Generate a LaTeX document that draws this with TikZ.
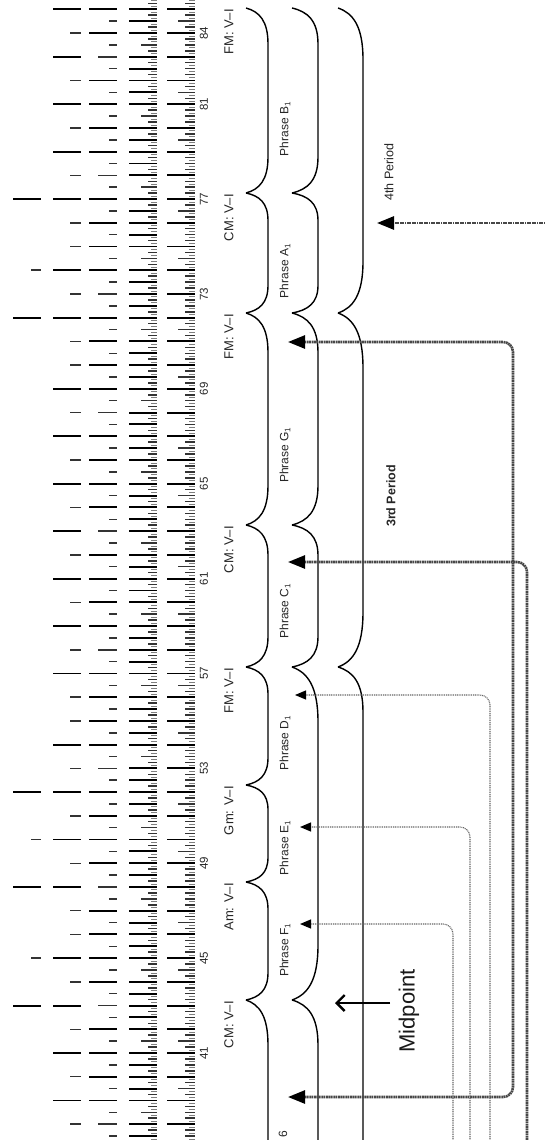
\documentclass[tikz,border=0pt]{standalone}
\usepackage{fontspec}
\setmainfont{Liberation Sans}
\usetikzlibrary{arrows.meta}
\makeatletter
\newcommand\ifinlist[2]{\edef\tmp@a{\noexpand\in@{,#1,}{,#2,}}\tmp@a\ifin@\expandafter\@firstoftwo\else\expandafter\@secondoftwo\fi}
\makeatother
% bracket between two cusps: xc, xb, y1, y2
\newcommand\phrbrace[4]{%
  \pgfmathsetmacro\bdd{min(55,12+0.13*(#4-#3))}%
  \pgfmathsetmacro\bxm{#1+0.6*(#2-#1)}%
  \draw[bracestyle] (#1,#3) .. controls (\bxm,{#3+0.1*\bdd}) and (#2,{#3+0.35*\bdd}) .. (#2,{#3+\bdd}) -- (#2,{#4-\bdd}) .. controls (#2,{#4-0.35*\bdd}) and (\bxm,{#4-0.1*\bdd}) .. (#1,#4);}
\newcommand\phrbraceopen[3]{%
  \pgfmathsetmacro\bxm{#1+0.6*(#2-#1)}%
  \draw[bracestyle] (#1,#3) .. controls (\bxm,{#3+4.5}) and (#2,{#3+15.7}) .. (#2,{#3+45}) -- (#2,1300);}
\begin{document}
\begin{tikzpicture}[x=1pt,y=-1pt,
  tkL/.style={line width=1.9pt,black},
  tkM/.style={line width=1.5pt,black!80},
  tkS/.style={line width=0.9pt,black!50},
  bracestyle/.style={line width=1.4pt,black},
  cad/.style={rotate=90,anchor=east,inner sep=0pt,font=\fontsize{13}{15}\selectfont,text=black!85},
  phr/.style={rotate=90,inner sep=0pt,font=\fontsize{12}{14}\selectfont,text=black!85},
  num/.style={rotate=90,inner sep=0pt,font=\fontsize{11.5}{13}\selectfont,text=black!85},
  per/.style={rotate=90,inner sep=0pt,font=\fontsize{12.5}{14}\selectfont,text=black!85},
  thickdot/.style={line width=2.6pt,black!72,dash pattern=on 1.8pt off 0.6pt,rounded corners=10pt},
  thindot/.style={line width=1.1pt,black!60,dash pattern=on 1pt off 0.8pt,rounded corners=10pt},
  bigtip/.style={-{Triangle[length=17pt,width=13pt,color=black]}},
  smalltip/.style={-{Triangle[length=11pt,width=9pt,color=black]}}
]
\useasboundingbox (0,0) rectangle (545,1140);
\fill[white] (0,0) rectangle (545,1140);

% ---------- metrical grid ----------
\foreach \m in {37,...,86}{%
  \pgfmathsetmacro\Y{1053-23.72*(\m-41)}%
  \pgfmathtruncatemacro\va{mod(\m*7+3,5)}%
  \pgfmathtruncatemacro\vb{mod(\m*5+2,3)}%
  \foreach \k in {0,...,7}{%
    \pgfmathsetmacro\yy{\Y-\k*2.965}%
    \ifnum\k=0
      \draw[tkL] (167,\yy) -- (195,\yy);
      \draw[tkL] (129,\yy) -- (157,\yy);
    \else\ifodd\k
      \draw[tkS] (189,\yy) -- (195,\yy);
      \draw[tkS] (151,\yy) -- (157,\yy);
    \else\ifnum\k=4
      \ifnum\va<2 \draw[tkM] (178,\yy) -- (195,\yy); \else \draw[tkM] (185,\yy) -- (195,\yy); \fi
      \ifnum\vb=0 \draw[tkM] (141,\yy) -- (157,\yy); \else \draw[tkL] (129,\yy) -- (157,\yy); \fi
    \else
      \draw[tkM] (185,\yy) -- (195,\yy);
      \draw[tkM] (148,\yy) -- (157,\yy);
    \fi\fi\fi
  }%
  % band 3
  \ifnum\va=4 \draw[tkM] (98,\Y) -- (117,\Y); \else \draw[tkL] (89,\Y) -- (117,\Y); \fi
  \draw[tkM] (109,{\Y-11.86}) -- (117,{\Y-11.86});
  % band 2
  \ifinlist{\m}{37,39,41,43,45,48,50,52,54,57,59,61,63,65,67,69,72,74,77,79,81,83,85}%
    {\draw[tkL] (53,\Y) -- (80.5,\Y);}{\draw[tkM] (70,\Y) -- (80.5,\Y);}%
  % band 1
  \ifinlist{\m}{43,48,52,72,77}{\draw[tkL] (13,\Y) -- (41,\Y);}{}%
  \ifinlist{\m}{45,50,74}{\draw[tkM] (31,\Y) -- (41,\Y);}{}%
}

% ---------- measure numbers ----------
\node[num] (n41) at (204,1053) {41};
\node[num] (n45) at (204,958.1) {45};
\node[num] (n49) at (204,863.2) {49};
\node[num] (n53) at (204,768.4) {53};
\node[num] (n57) at (204,673.5) {57};
\node[num] (n61) at (204,578.6) {61};
\node[num] (n65) at (204,483.7) {65};
\node[num] (n69) at (204,388.8) {69};
\node[num] (n73) at (204,294) {73};
\node[num] (n77) at (204,199.1) {77};
\node[num] (n81) at (204,104.2) {81};
\node[num] (n84) at (204,33) {84};

% ---------- cadence labels ----------
\node[cad] (c85) at (229,9) {FM: V–I};
\node[cad] (c77) at (229,194) {CM: V–I};
\node[cad] (c72) at (229,314) {FM: V–I};
\node[cad] (c63) at (229,526) {CM: V–I};
\node[cad] (c57) at (229,668) {FM: V–I};
\node[cad] (c52) at (229,786) {Gm: V–I};
\node[cad] (c48) at (229,883) {Am: V–I};
\node[cad] (c43) at (229,1001) {CM: V–I};

% ---------- brackets ----------
% column 1 (phrases)
\phrbrace{246}{268}{8}{193}
\phrbrace{246}{268}{193}{313}
\phrbrace{246}{268}{313}{525}
\phrbrace{246}{268}{525}{667}
\phrbrace{246}{268}{667}{785}
\phrbrace{246}{268}{785}{882}
\phrbrace{246}{268}{882}{1000}
\phrbraceopen{246}{268}{1000}
% column 2
\phrbrace{292}{318}{8}{193}
\phrbrace{292}{318}{193}{313}
\phrbrace{292}{318}{313}{525}
\phrbrace{292}{318}{525}{667}
\phrbrace{292}{318}{667}{1000}
\phrbraceopen{292}{318}{1000}
% column 3 (periods)
\phrbrace{338}{363}{8}{313}
\phrbrace{338}{363}{313}{667}
\phrbraceopen{338}{363}{667}

% ---------- phrase labels ----------
\node[phr] (pB) at (285,129) {Phrase B\textsubscript{1}};
\node[phr] (pA) at (285,271) {Phrase A\textsubscript{1}};
\node[phr] (pG) at (285,455) {Phrase G\textsubscript{1}};
\node[phr] (pC) at (285,611) {Phrase C\textsubscript{1}};
\node[phr] (pD) at (285,743) {Phrase D\textsubscript{1}};
\node[phr] (pE) at (285,848) {Phrase E\textsubscript{1}};
\node[phr] (pF) at (285,950) {Phrase F\textsubscript{1}};
\node[phr,anchor=east] (p6) at (283,1131) {6};

\node[per] (per4) at (389,172) {4th Period};
\node[per,font=\fontsize{12.5}{14}\selectfont\bfseries] (per3) at (391,496) {3rd Period};

\node[rotate=90,inner sep=0pt,font=\fontsize{22}{26}\selectfont,text=black!90] (mid) at (409,1011) {Midpoint};

% ---------- connectors ----------
\coordinate (aS) at (560,223); \coordinate (aT) at (377,223);
\draw[thickdot,bigtip] (aS) -- (aT);

\coordinate (bT) at (288,342); \coordinate (bgx) at (513,700); \coordinate (gT) at (288,1097);
\draw[thickdot,{Triangle[length=17pt,width=13pt,color=black]}-{Triangle[length=17pt,width=13pt,color=black]}] (bT) -| (bgx) |- (gT);

\coordinate (cS) at (527,1200); \coordinate (cT) at (288,562);
\draw[thickdot,bigtip] (cS) |- (cT);

\coordinate (dS) at (490,1200); \coordinate (dT) at (295,695);
\draw[thindot,smalltip] (dS) |- (dT);
\coordinate (eS) at (470,1200); \coordinate (eT) at (300,827);
\draw[thindot,smalltip] (eS) |- (eT);
\coordinate (fS) at (453,1200); \coordinate (fT) at (300,924);
\draw[thindot,smalltip] (fS) |- (fT);

\coordinate (mS) at (390,1003); \coordinate (mT) at (335,1003);
\draw[line width=2.4pt,black,-{Straight Barb[length=8pt,width=16pt]}] (mS) -- (mT);
\end{tikzpicture}
\end{document}
